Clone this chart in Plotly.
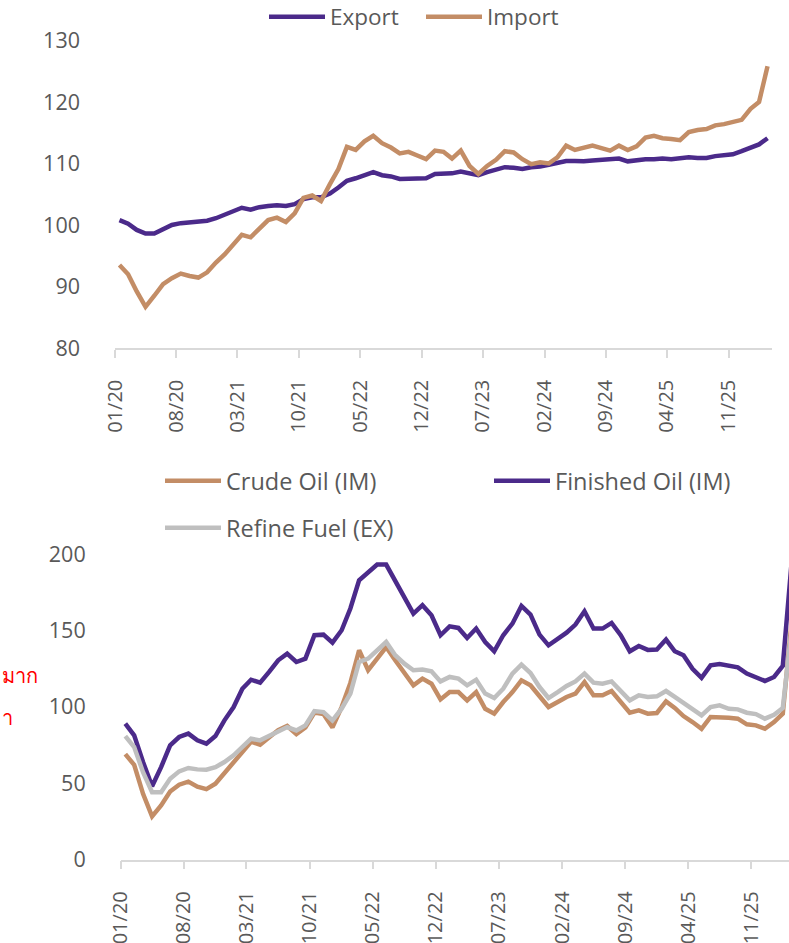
import pandas as pd
import plotly.graph_objects as go

# ---------------- data ----------------
months = pd.date_range("2020-01-01", periods=75, freq="MS")

export_idx = [
    100.8, 100.2, 99.2, 98.6, 98.6, 99.3, 100.0, 100.3, 100.4, 100.5,
    100.7, 101.1, 101.7, 102.4, 102.8, 102.5, 102.9, 103.1, 103.2, 103.1,
    103.4, 104.2, 104.5, 104.5, 105.1, 106.1, 107.2, 107.6, 108.1, 108.6,
    108.1, 107.9, 107.5, 107.5, 107.6, 107.6, 108.3, 108.3, 108.4, 108.7,
    108.4, 108.1, 108.6, 109.1, 109.4, 109.3, 109.1, 109.4, 109.5, 109.8,
    110.1, 110.4, 110.4, 110.35, 110.5, 110.6, 110.6, 110.8, 110.35, 110.6,
    110.7, 110.7, 110.8, 110.7, 110.8, 111.0, 110.9, 110.9, 111.2, 111.4,
    111.5, 112.0, 112.5, 113.1, 114.1,
]
import_idx = [
    93.5, 92.0, 89.2, 86.7, 88.5, 90.4, 91.35, 92.1, 91.7, 91.45,
    92.3, 93.9, 95.25, 96.9, 98.4, 98.0, 99.5, 100.8, 101.2, 100.5,
    101.9, 104.4, 104.8, 103.9, 106.65, 109.1, 112.7, 112.2, 113.6, 114.5,
    113.3, 112.6, 111.65, 111.9, 111.3, 110.7, 112.1, 111.9, 110.8, 112.1,
    109.6, 108.3, 109.6, 110.6, 112.0, 111.8, 110.7, 109.9, 110.2, 110.0,
    111.0, 112.9, 112.2, 112.5, 112.9, 112.5, 112.1, 112.9, 112.2, 112.8,
    114.2, 114.5, 114.1, 114.0, 113.8, 115.1, 115.45, 115.6, 116.2, 116.4,
    116.7, 117.1, 118.9, 120.0, 125.8,
]

crude_im = [
    69.0, 62.0, 43.0, 28.2, 35.4, 44.5, 49.0, 51.0, 47.7, 46.1,
    49.6, 56.6, 63.0, 69.7, 77.1, 75.2, 80.2, 84.7, 87.4, 82.1,
    86.5, 96.2, 95.2, 86.5, 99.8, 115.6, 137.0, 123.9, 131.5, 139.1,
    130.4, 121.7, 114.0, 118.4, 115.1, 104.8, 109.6, 109.6, 104.2, 109.6,
    98.7, 95.5, 103.1, 109.6, 117.3, 114.0, 106.4, 99.8, 103.1, 106.4,
    108.6, 116.2, 107.5, 107.5, 110.3, 103.1, 96.1, 97.6, 95.5, 95.9,
    103.5, 99.2, 93.9, 90.0, 85.6, 93.3, 93.3, 92.8, 92.2, 88.5,
    87.8, 85.6, 90.0, 95.5, 155.0,
]
finished_im = [
    88.9, 81.3, 63.8, 48.0, 60.5, 74.7, 80.2, 82.4, 78.0, 75.8,
    80.8, 91.1, 99.8, 111.8, 117.7, 115.8, 122.8, 130.4, 134.8, 129.3,
    131.5, 146.8, 147.2, 142.0, 150.1, 164.3, 182.8, 188.3, 193.1, 193.1,
    182.8, 171.9, 161.0, 166.5, 159.9, 146.8, 152.6, 151.6, 145.0, 151.2,
    142.4, 136.3, 146.8, 154.4, 166.0, 160.3, 147.2, 140.2, 144.2, 148.5,
    153.8, 162.5, 151.2, 151.2, 154.9, 146.8, 136.3, 139.8, 137.2, 137.4,
    144.0, 136.3, 133.7, 124.9, 119.0, 127.1, 128.0, 126.7, 125.8, 121.7,
    119.3, 116.9, 119.5, 126.7, 194.0,
]
refine_ex = [
    80.8, 73.6, 57.2, 44.1, 44.1, 52.9, 57.7, 59.9, 59.0, 58.8,
    60.5, 63.8, 68.2, 73.6, 79.1, 78.0, 80.8, 83.5, 86.7, 84.5,
    87.8, 97.2, 96.5, 91.1, 98.7, 108.6, 129.3, 131.5, 137.0, 142.4,
    133.7, 128.2, 123.9, 124.3, 123.2, 116.6, 119.5, 118.4, 114.0, 117.7,
    108.6, 105.7, 111.8, 121.7, 127.6, 122.1, 112.9, 105.7, 109.6, 113.6,
    116.6, 121.7, 115.8, 115.1, 116.6, 110.7, 104.2, 107.5, 106.4, 106.8,
    110.3, 106.4, 102.7, 98.7, 94.4, 99.8, 100.9, 98.7, 98.3, 96.1,
    95.2, 92.2, 94.8, 99.2, 150.0,
]

# ---------------- style ----------------
PURPLE = "#4B2A8A"
TAN = "#C38D66"
GREY = "#BFBFBF"
TXT = "#595959"
AXIS = "#D9D9D9"
FONT = "Open Sans"
W, H = 789, 943


def fx(p):
    return p / W


def fy(p):
    return 1 - p / H


fig = go.Figure()


def add(name, y, color, xa, ya, legend):
    fig.add_trace(go.Scatter(
        x=months, y=y, name=name, mode="lines",
        line=dict(color=color, width=4.5),
        xperiod="M1", xperiodalignment="middle",
        xaxis=xa, yaxis=ya, legend=legend, hoverinfo="skip",
    ))


add("Export", export_idx, PURPLE, "x", "y", "legend")
add("Import", import_idx, TAN, "x", "y", "legend2")
add("Crude Oil (IM)", crude_im, TAN, "x2", "y2", "legend3")
add("Finished Oil (IM)", finished_im, PURPLE, "x2", "y2", "legend4")
add("Refine Fuel (EX)", refine_ex, GREY, "x2", "y2", "legend5")

xtickfont = dict(family=FONT, size=20, color=TXT)
ytickfont = dict(family=FONT, size=21.5, color=TXT)

xcommon = dict(
    type="date", tick0="2020-01-01", dtick="M7", tickformat="%m/%y",
    tickangle=-90, ticks="outside", ticklen=8, tickwidth=1.5, tickcolor=AXIS,
    showline=True, linecolor=AXIS, linewidth=1.5, showgrid=False, zeroline=False,
    tickfont=xtickfont, ticklabelstandoff=14, fixedrange=True, automargin=False,
)
ycommon = dict(
    showgrid=False, showline=False, ticks="", zeroline=False,
    tickfont=ytickfont, ticklabelstandoff=34, fixedrange=True, automargin=False,
)


def leg(xpx, ypx, size):
    return dict(
        x=fx(xpx - 8), y=fy(ypx), xanchor="left", yanchor="middle",
        orientation="h", font=dict(family=FONT, size=size, color=TXT),
        bgcolor="rgba(0,0,0,0)", borderwidth=0, itemwidth=56,
    )


fig.update_layout(
    width=W, height=H,
    margin=dict(l=0, r=0, t=0, b=0, autoexpand=False),
    paper_bgcolor="white", plot_bgcolor="white",
    font=dict(family=FONT, color=TXT),
    showlegend=True,
    xaxis=dict(xcommon, domain=[fx(115), fx(772)],
               range=["2020-01-01", "2026-04-01"], anchor="y"),
    yaxis=dict(ycommon, domain=[fy(348), fy(40.5)], range=[80, 130],
               tick0=80, dtick=10, anchor="x"),
    xaxis2=dict(xcommon, domain=[fx(120.7), 1.0],
                range=["2020-01-01", "2026-03-08"], anchor="y2"),
    yaxis2=dict(ycommon, domain=[fy(859.5), fy(554)], range=[0, 200],
                tick0=0, dtick=50, anchor="x2"),
    legend=leg(272, 17, 22.5),
    legend2=leg(429, 17, 22.5),
    legend3=leg(168, 481, 23.5),
    legend4=leg(497, 481, 23.5),
    legend5=leg(168, 528, 23.5),
    annotations=[
        dict(text="มาก", xref="paper", yref="paper", x=0, y=fy(675),
             xanchor="left", yanchor="middle", showarrow=False,
             font=dict(family="Noto Sans", size=20, color="#FF0000")),
        dict(text="า", xref="paper", yref="paper", x=0, y=fy(717),
             xanchor="left", yanchor="middle", showarrow=False,
             font=dict(family="Noto Sans", size=20, color="#FF0000")),
    ],
)

fig.write_html(
    "out.html",
    config={"displayModeBar": False},
    post_script="document.body.style.margin='0';document.body.style.overflow='hidden';",
)
